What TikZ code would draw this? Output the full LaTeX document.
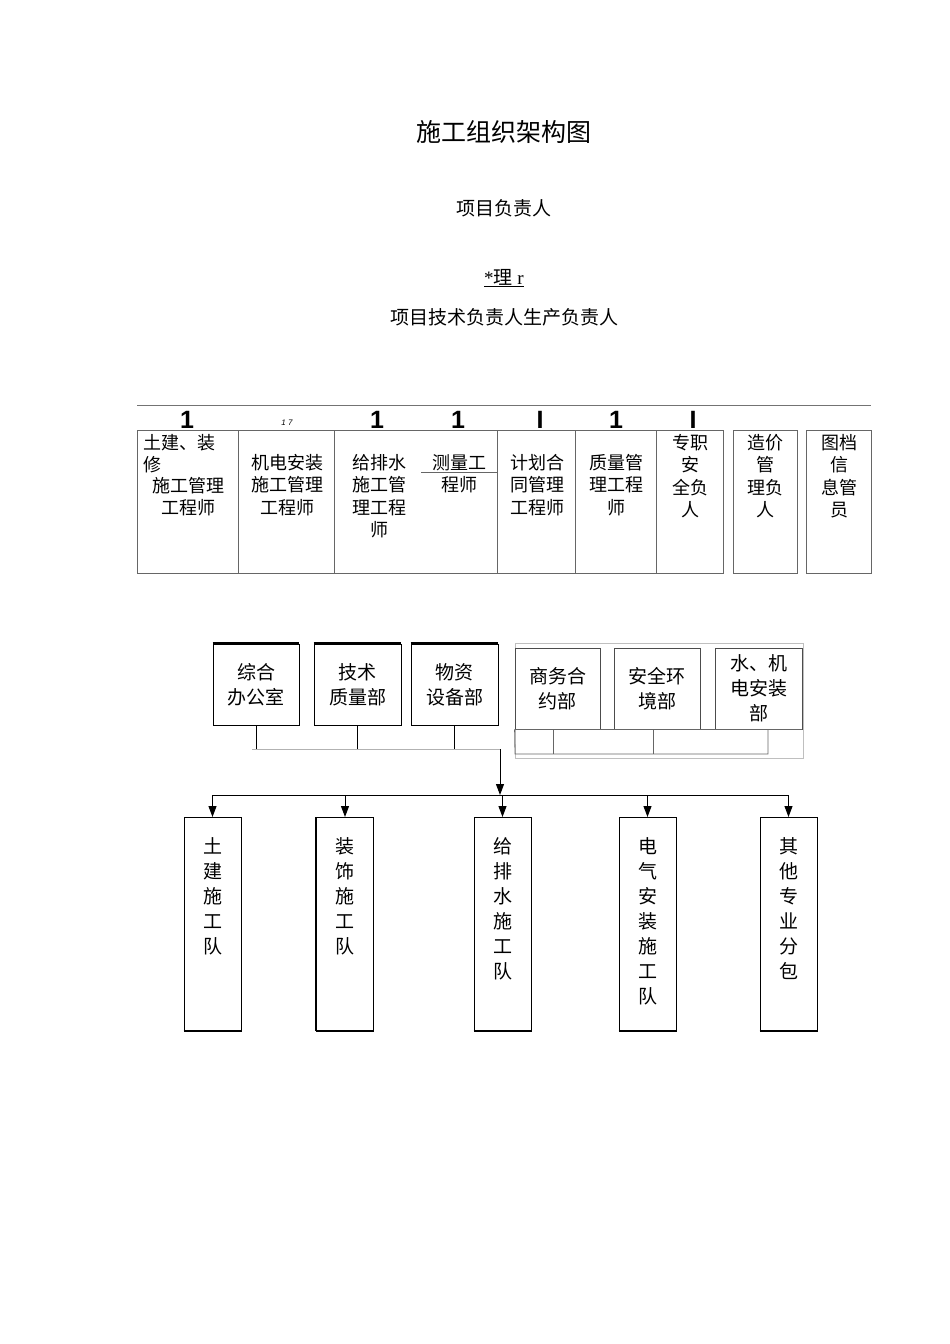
\documentclass[tikz,border=0pt]{standalone}
\usepackage{fontspec}
\setmainfont{Noto Sans CJK SC}
\newfontfamily\latinsans{Liberation Sans}
\newfontfamily\latinserif{Liberation Serif}
\usetikzlibrary{arrows.meta,positioning}

\begin{document}
\begin{tikzpicture}[x=1pt, y=-1pt,
  cell/.style={draw=black!60, line width=0.8pt, anchor=north west, inner sep=0pt,
               minimum height=143pt},
  txt/.style={font=\fontsize{18}{22.5}\selectfont, align=center, anchor=north, inner sep=0pt},
  mark1/.style={font=\latinsans\bfseries\fontsize{25}{25}\selectfont, anchor=south, inner sep=0pt},
  dept/.style={draw, line width=0.9pt, minimum height=81pt, inner sep=0pt, align=center,
               font=\fontsize{19}{25}\selectfont},
  team/.style={draw, line width=1pt, minimum width=57pt, minimum height=213pt,
               anchor=north, inner sep=0pt},
  vtxt/.style={font=\fontsize{19}{25}\selectfont, align=center, anchor=north, inner sep=0pt},
  ln/.style={line width=0.8pt},
  ar/.style={-{Triangle[length=11pt,width=8pt]}, line width=1pt}]
\useasboundingbox (0,0) rectangle (950,1344);

% heading
\node[font=\fontsize{25}{25}\selectfont] (title) at (504,132) {施工组织架构图};
\node[font=\fontsize{19}{19}\selectfont] (pm) at (504,208) {项目负责人};
\node[font=\fontsize{19}{19}\selectfont] (mgr) at (504,278) {\underline{{\latinserif *}理{\latinserif\ r}}};
\node[font=\fontsize{19}{19}\selectfont] (lead) at (504,317) {项目技术负责人生产负责人};

% top row
\coordinate (barl) at (137,405);
\coordinate (barr) at (871,405);
\draw[draw=black!55, line width=1pt] (barl) -- (barr);
\node[cell, minimum width=101pt] (c1) at (137,430) {};
\node[cell, minimum width=96pt]  (c2) at (238,430) {};
\node[cell, minimum width=163pt] (c3) at (334,430) {};
\node[cell, minimum width=78pt]  (c4) at (497,430) {};
\node[cell, minimum width=81pt]  (c5) at (575,430) {};
\node[cell, minimum width=67pt]  (c6) at (656,430) {};
\node[cell, minimum width=64pt]  (c7) at (733,430) {};
\node[cell, minimum width=65pt]  (c8) at (806,430) {};
\node[mark1] at (187,429) {1};
\node[font=\latinsans\itshape\fontsize{8}{8}\selectfont, anchor=south] at (287,429) {1 7};
\node[mark1] at (377,429) {1};
\node[mark1] at (458,429) {1};
\node[mark1] at (540,429) {I};
\node[mark1] at (616,429) {1};
\node[mark1] at (693,429) {I};

\node[txt, anchor=north west, align=left] (t1a) at (143,434) {土建、装\\修};
\node[txt] (t1b) at (188,477) {施工管理\\工程师};
\node[txt] (t2) at (287,454) {机电安装\\施工管理\\工程师};
\node[txt] (t3) at (379,454) {给排水\\施工管\\理工程\\师};
\node[txt] (t3m) at (459,454) {测量工\\程师};
\coordinate (ml) at (421,472);
\draw[draw=black!60, ln] (ml) -- (c3.north east |- ml);
\node[txt] (t4) at (537,454) {计划合\\同管理\\工程师};
\node[txt] (t5) at (616,454) {质量管\\理工程\\师};
\node[txt] (t6) at (690,434) {专职\\安\\全负\\人};
\node[txt] (t7) at (765,434) {造价\\管\\理负\\人};
\node[txt] (t8) at (839,434) {图档\\信\\息管\\员};

% departments
\node[dept, minimum width=86pt] (d1) at (256,684.5) {综合\\办公室};
\node[dept, minimum width=87pt] (d2) at (357.5,684.5) {技术\\质量部};
\node[dept, minimum width=87pt] (d3) at (454.5,684.5) {物资\\设备部};
\foreach \d in {d1,d2,d3}{\draw[line width=2.2pt] (\d.north west) -- (\d.north east);}
\coordinate (lbus) at (252,749);
\coordinate (lend) at (500,749);
\foreach \d in {d1,d2,d3}{\draw[ln] (\d.south) -- (\d.south |- lbus);}
\draw[draw=black!30, ln] (lbus) -- (lend);

\draw[draw=black!25, ln] (515,643) rectangle (803,758);
\node[dept, draw=black!70, line width=0.8pt, minimum width=85pt] (r1) at (557.5,688.5) {商务合\\约部};
\node[dept, draw=black!70, line width=0.8pt, minimum width=86pt] (r2) at (657,688.5) {安全环\\境部};
\node[dept, draw=black!70, line width=0.8pt, minimum width=87pt] (r3) at (758.5,688.5) {水、机\\电安装\\部};
\coordinate (rb) at (515,754);
\draw[draw=black!60, ln] (r1.south west) -- (r3.south east);
\draw[draw=black!60, ln] (r1.south west) -- (rb) -- (768,754) -- (768,729);
\foreach \x in {553,653}{\draw[draw=black!60, ln] (\x,729) -- (\x,754);}

% teams
\node[team] (s1) at (212.5,817) {};
\node[team] (s2) at (345,817) {};
\node[team] (s3) at (502.5,817) {};
\node[team] (s4) at (647.5,817) {};
\node[team] (s5) at (788.5,817) {};
\foreach \s in {s1,s2,s3,s4,s5}{\draw[line width=2.4pt] (\s.south west) -- (\s.south east);}
\draw[line width=1.8pt] (s2.north west) -- (s2.south west);
\node[vtxt] at (212.5,837) {土\\建\\施\\工\\队};
\node[vtxt] at (345,837) {装\\饰\\施\\工\\队};
\node[vtxt] at (502.5,837) {给\\排\\水\\施\\工\\队};
\node[vtxt] at (647.5,837) {电\\气\\安\\装\\施\\工\\队};
\node[vtxt] at (788.5,837) {其\\他\\专\\业\\分\\包};

\coordinate (bus) at (500,795);
\draw[ar] (lend) -- (bus);
\draw[line width=1pt] (s1.north |- bus) -- (s5.north |- bus);
\foreach \s in {s1,s2,s3,s4,s5}{\draw[ar] (\s.north |- bus) -- (\s.north);}
\end{tikzpicture}
\end{document}
